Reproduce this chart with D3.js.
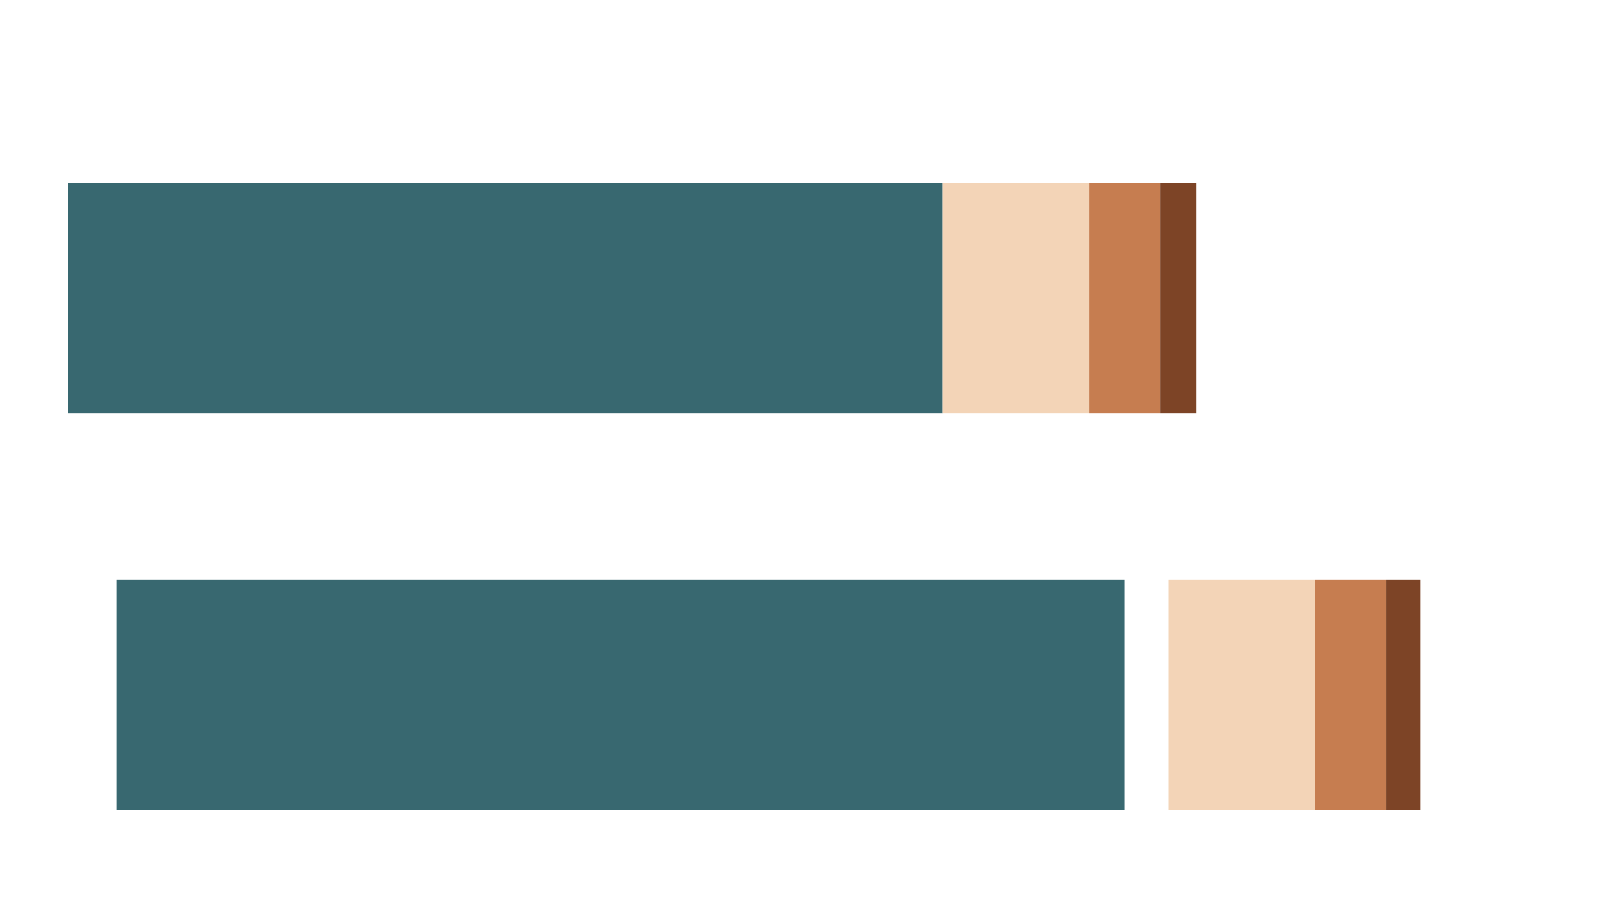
<!DOCTYPE html>
<html lang="en">
<head>
<meta charset="UTF-8">
<title>Stacked bars</title>
<script src="https://d3js.org/d3.v7.min.js"></script>
<style>
    body { margin: 0; background: #fff; }
    svg { display: block; }
</style>
</head>
<body>
<div id="chart"></div>
<script>
    // two rows, segments stacked left to right (blank segments are spacers)
    var rows = ["A", "B"];
    var keys = ["offset", "main", "gap", "light", "mid", "dark"];
    var offset = [0, 3.32];
    var main = [59.7, 68.8];
    var gap = [0, 3.0];
    var light = [10.0, 10.0];
    var mid = [4.85, 4.85];
    var dark = [2.46, 2.34];

    var colors = {
        offset: "none",
        main: "#386870",
        gap: "none",
        light: "#f3d4b7",
        mid: "#c67d50",
        dark: "#7d4426"
    };

    var table = rows.map((r, i) => ({
        row: r,
        offset: offset[i], main: main[i], gap: gap[i],
        light: light[i], mid: mid[i], dark: dark[i]
    }));

    var width = 1600, height = 900;

    var svg = d3.select("#chart").append("svg")
        .attr("width", width)
        .attr("height", height);

    var x = d3.scaleLinear()
        .domain([0, 100])
        .range([68, 68 + 1465]);

    var y = d3.scaleBand()
        .domain(rows)
        .range([183, 810])
        .paddingInner(0.42)
        .paddingOuter(0);

    var series = d3.stack().keys(keys)(table);

    svg.append("g")
        .selectAll("g")
        .data(series)
        .join("g")
            .attr("fill", d => colors[d.key])
        .selectAll("rect")
        .data(d => d)
        .join("rect")
            .attr("x", d => x(d[0]))
            .attr("y", d => y(d.data.row))
            .attr("width", d => x(d[1]) - x(d[0]))
            .attr("height", y.bandwidth());
</script>
</body>
</html>
